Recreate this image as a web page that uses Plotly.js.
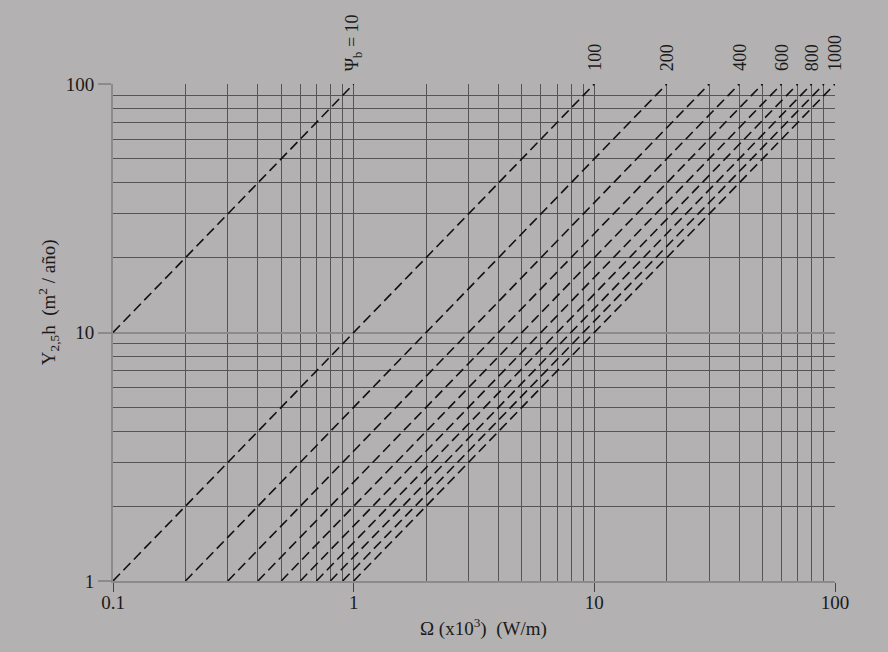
<!DOCTYPE html>
<html>
<head>
<meta charset="utf-8">
<script src="https://cdn.plot.ly/plotly-3.0.1.min.js"></script>
<style>html,body{margin:0;padding:0;background:#b3b1b1;}#chart{width:888px;height:652px;}</style>
</head>
<body>
<div id="chart"></div>
<script>
// Line parameter Ψb and endpoints
const psiB      = [10, 100, 200, 300, 400, 500, 600, 700, 800, 900, 1000];
const startX    = [0.1, 0.1, 0.2, 0.3, 0.4, 0.5, 0.6, 0.7, 0.8, 0.9, 1.0];
const startY    = [10, 1, 1, 1, 1, 1, 1, 1, 1, 1, 1];
const endX      = [1, 10, 20, 30, 40, 50, 60, 70, 80, 90, 100];
const endY      = [100, 100, 100, 100, 100, 100, 100, 100, 100, 100, 100];
const labelledPsi = [10, 100, 200, 400, 600, 800, 1000];
const xTickVals = [0.1, 1, 10, 100];
const xTickText = ["0.1", "1", "10", "100"];
const yTickVals = [1, 10, 100];
const yTickText = ["1", "10", "100"];
const xMinor = [0.2,0.3,0.4,0.5,0.6,0.7,0.8,0.9,2,3,4,5,6,7,8,9,20,30,40,50,60,70,80,90];
const yMinor = [2,3,4,5,6,7,8,9,20,30,40,50,60,70,80,90];
const xTitle = "Ω (x10<sup>3</sup>)  (W/m)";
const yTitle = "Y<sub>2,5</sub>h  (m<sup>2</sup> / año)";

const font = "Liberation Serif, Times New Roman, serif";
const ink = "#1a1a1a";
const traces = psiB.map((p, i) => ({
  type: "scatter", mode: "lines",
  x: [startX[i], endX[i]], y: [startY[i], endY[i]],
  line: {color: "#111", width: 1.6, dash: "10px,5px"},
  hoverinfo: "skip", showlegend: false
}));

const annotations = [];
psiB.forEach((p, i) => {
  if (labelledPsi.indexOf(p) < 0) return;
  annotations.push({
    x: Math.log10(endX[i]), y: Math.log10(endY[i]), xref: "x", yref: "y",
    text: p === 10 ? "Ψ<sub>b</sub> = 10" : String(p),
    textangle: -90, showarrow: false,
    xanchor: "center", yanchor: "bottom", yshift: 11,
    font: {family: font, size: 18, color: ink}
  });
});
annotations.push({
  xref: "paper", yref: "paper", x: 0.5125, y: -0.0926,
  xanchor: "center", yanchor: "middle", showarrow: false,
  text: xTitle, font: {family: font, size: 19, color: ink}
});
annotations.push({
  xref: "paper", yref: "paper", x: -0.09, y: 0.561,
  xanchor: "center", yanchor: "middle", showarrow: false, textangle: -90,
  text: yTitle, font: {family: font, size: 19, color: ink}
});

const layout = {
  width: 888, height: 652,
  paper_bgcolor: "#b3b1b1", plot_bgcolor: "#b3b1b1",
  margin: {l: 113, r: 53, t: 84, b: 71},
  showlegend: false,
  font: {family: font, size: 18, color: ink},
  xaxis: {
    type: "log", range: [-1, 2],
    tickvals: xTickVals, ticktext: xTickText,
    ticks: "outside", ticklen: 9, tickcolor: "#444", tickwidth: 1,
    ticklabelstandoff: -6,
    showgrid: true, gridcolor: "#555", gridwidth: 1,
    minor: {tickvals: xMinor, showgrid: true, gridcolor: "#555", gridwidth: 1, ticks: ""},
    showline: true, linecolor: "#8c8a8a", linewidth: 2, mirror: false,
    zeroline: false,
    tickfont: {family: font, size: 19, color: ink}
  },
  yaxis: {
    type: "log", range: [0, 2],
    tickvals: yTickVals, ticktext: yTickText,
    ticks: "outside", ticklen: 13, tickcolor: "#8c8a8a", tickwidth: 2,
    showgrid: true, gridcolor: "#8c8a8a", gridwidth: 2,
    minor: {tickvals: yMinor, showgrid: true, gridcolor: "#555", gridwidth: 1, ticks: ""},
    showline: true, linecolor: "#8c8a8a", linewidth: 2,
    zeroline: false,
    tickfont: {family: font, size: 19, color: ink}
  },
  annotations: annotations
};

Plotly.newPlot("chart", traces, layout, {displayModeBar: false, staticPlot: true});
</script>
</body>
</html>
